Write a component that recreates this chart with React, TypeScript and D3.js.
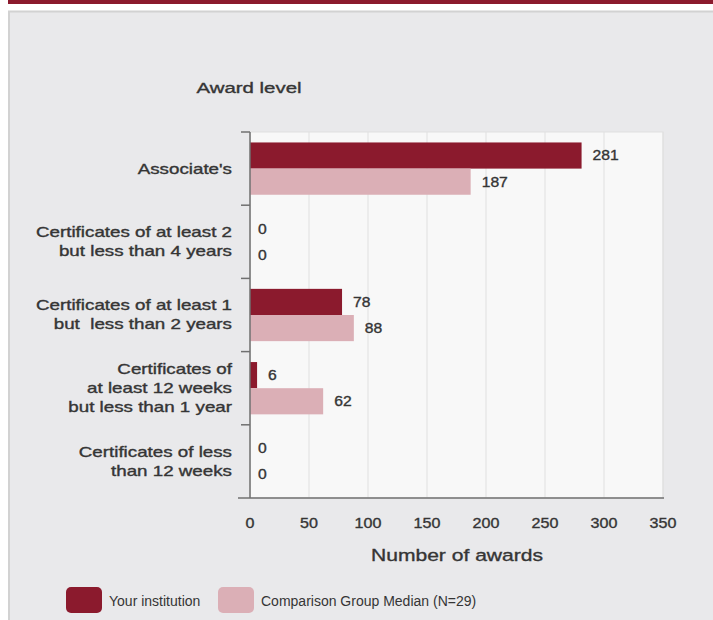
import React from "react";
import * as d3 from "d3";

const categories: string[][] = [
  ["Associate's"],
  ["Certificates of at least 2", "but less than 4 years"],
  ["Certificates of at least 1", "but  less than 2 years"],
  ["Certificates of", "at least 12 weeks", "but less than 1 year"],
  ["Certificates of less", "than 12 weeks"],
];
const yourInstitution: number[] = [281, 0, 78, 6, 0];
const comparisonMedian: number[] = [187, 0, 88, 62, 0];
const xTicks: number[] = [0, 50, 100, 150, 200, 250, 300, 350];
const seriesNames: string[] = ["Your institution", "Comparison Group Median (N=29)"];
const seriesColors: string[] = ["#8b1a2d", "#dbafb6"];

const W = 713;
const H = 620;
const plot = { left: 250, right: 663, top: 132, bottom: 498 };
const FONT = "'Liberation Sans', Arial, sans-serif";
const TEXT = "#353535";

function WText(props: {
  x: number;
  y: number;
  sx: number;
  size: number;
  anchor?: "start" | "middle" | "end";
  children: React.ReactNode;
}) {
  const { x, y, sx, size, anchor = "start", children } = props;
  return (
    <g transform={`translate(${x},${y}) scale(${sx},1)`}>
      <text
        x={0}
        y={0}
        dy="0.35em"
        fontSize={size}
        textAnchor={anchor}
        fill={TEXT}
        stroke={TEXT}
        strokeWidth={0.35}
        style={{ whiteSpace: "pre" }}
      >
        {children}
      </text>
    </g>
  );
}

export default function App() {
  const x = d3.scaleLinear().domain([0, 350]).range([plot.left, plot.right]);
  const y = d3
    .scaleBand<number>()
    .domain(categories.map((_, i) => i))
    .range([plot.top, plot.bottom]);
  const inner = d3
    .scaleBand<number>()
    .domain([0, 1])
    .range([0, y.bandwidth()])
    .paddingOuter(0.4);
  const series = [yourInstitution, comparisonMedian];

  return (
    <svg
      width={W}
      height={H}
      style={{ position: "absolute", left: 0, top: 0, background: "#ffffff" }}
      fontFamily={FONT}
    >
      <rect x={8} y={0} width={W - 8} height={4} fill="#8b1a2d" />
      <rect x={9} y={11.5} width={W} height={H} fill="#e9e9eb" stroke="#d2d2d2" strokeWidth={2} />

      <WText x={249} y={88} sx={1.36} size={15} anchor="middle">
        Award level
      </WText>

      {/* plot background */}
      <rect
        x={plot.left}
        y={plot.top}
        width={plot.right - plot.left}
        height={plot.bottom - plot.top}
        fill="#f8f8f8"
        stroke="#e0e0e0"
      />
      {xTicks.map((t) => (
        <line key={"g" + t} x1={x(t)} x2={x(t)} y1={plot.top} y2={plot.bottom} stroke="#e0e0e0" strokeWidth={1} />
      ))}

      {/* bars */}
      {categories.map((_, ci) =>
        series.map((vals, si) => (
          <rect
            key={`b${ci}-${si}`}
            x={x(0)}
            y={(y(ci) as number) + (inner(si) as number)}
            width={x(vals[ci]) - x(0)}
            height={inner.bandwidth()}
            fill={seriesColors[si]}
          />
        ))
      )}
      {categories.map((_, ci) =>
        series.map((vals, si) => (
          <WText
            key={`v${ci}-${si}`}
            x={x(vals[ci]) + (vals[ci] > 0 ? 11 : 8)}
            y={(y(ci) as number) + (inner(si) as number) + inner.bandwidth() / 2}
            sx={1.12}
            size={14}
          >
            {vals[ci]}
          </WText>
        ))
      )}

      {/* axes */}
      <line x1={plot.left} x2={plot.left} y1={plot.top} y2={plot.bottom} stroke="#707070" strokeWidth={1.5} />
      <line x1={238} x2={plot.right + 1} y1={plot.bottom} y2={plot.bottom} stroke="#707070" strokeWidth={1.5} />
      {categories.map((_, ci) => (
        <line
          key={"t" + ci}
          x1={241}
          x2={plot.left}
          y1={y(ci) as number}
          y2={y(ci) as number}
          stroke="#707070"
          strokeWidth={1.5}
        />
      ))}

      {/* category labels */}
      {categories.map((lines, ci) => {
        const cy = (y(ci) as number) + y.bandwidth() / 2;
        const lh = 19;
        return (
          <g key={"c" + ci}>
            {lines.map((ln, li) => (
              <WText key={li} x={232} y={cy + (li - (lines.length - 1) / 2) * lh} sx={1.34} size={14} anchor="end">
                {ln}
              </WText>
            ))}
          </g>
        );
      })}

      {/* x tick labels */}
      {xTicks.map((t) => (
        <WText key={"x" + t} x={x(t)} y={523} sx={1.15} size={14} anchor="middle">
          {t}
        </WText>
      ))}
      <WText x={457} y={555} sx={1.24} size={17} anchor="middle">
        Number of awards
      </WText>

      {/* legend */}
      {seriesNames.map((name, i) => {
        const lx = i === 0 ? 66 : 218;
        return (
          <g key={"l" + i}>
            <rect x={lx} y={587} width={36} height={26} rx={5} fill={seriesColors[i]} />
            <text x={lx + 43} y={601} dy="0.35em" fontSize={14} fill={TEXT}>
              {name}
            </text>
          </g>
        );
      })}
    </svg>
  );
}
